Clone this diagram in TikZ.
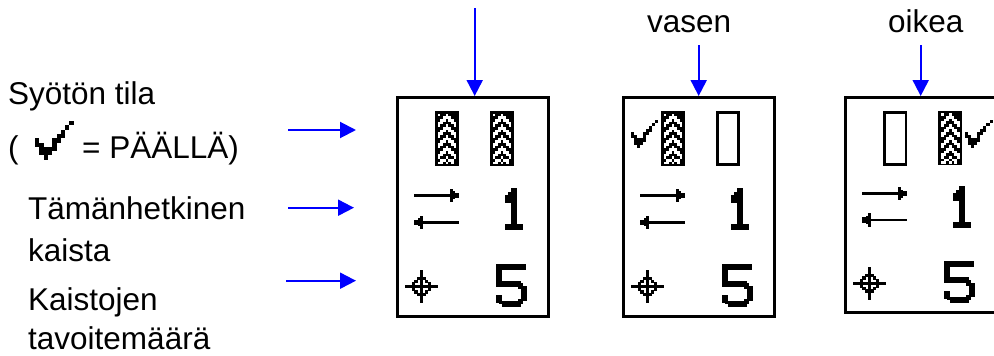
\documentclass[tikz,border=0pt]{standalone}
\usepackage{fontspec}
\setmainfont{Liberation Sans}
\usetikzlibrary{arrows.meta}
\definecolor{arrowblue}{RGB}{0,0,255}
\tikzset{
  label text/.style={anchor=base west,inner sep=0pt,text depth=0pt,font=\fontsize{31.5}{36}\selectfont,text=black},
  pointer/.style={draw=arrowblue,line width=2pt,-{Triangle[length=16pt,width=16pt,fill=arrowblue]}},
  panel/.style={draw=black,line width=2.7pt,rectangle,inner sep=0pt,anchor=north west},
  art/.style={x=2.667pt,y=-2.667pt},
}
\newcommand\pixrow[2]{\foreach \c in {#2}{\fill[white] (\c,#1) rectangle +(1.02,1.02);}}
\newcommand\treadicon[2]{%
  \begin{scope}[shift={(#1,#2)},art]
    \fill[black] (0,0) rectangle (9,20.6);
    \pixrow{1}{1,4}
    \pixrow{2}{3,4,5}
    \pixrow{3}{2,3,5,6}
    \pixrow{4}{1,2,6,7}
    \pixrow{5}{1,4,7}
    \pixrow{6}{3,4,5}
    \pixrow{7}{2,3,5,6}
    \pixrow{8}{1,2,6,7}
    \pixrow{9}{1,4,7}
    \pixrow{10}{3,4,5}
    \pixrow{11}{2,3,5,6}
    \pixrow{12}{1,2,6,7}
    \pixrow{13}{1,4,7}
    \pixrow{14}{3,4,5}
    \pixrow{15}{2,3,5,6}
    \pixrow{16}{1,2,6,7}
    \pixrow{17}{1,4,7}
    \pixrow{18}{2,3,5,6}
    \pixrow{19}{1,2,4,6}
  \end{scope}}
\newcommand\hollowicon[2]{%
  \draw[black,line width=2.667pt] (#1+1.33,#2+1.33) rectangle (#1+22.67,#2+53.67);}
% tick drawn from square cells: #1,#2 = top-left, #3 = cell size
\newcommand\tickicon[3]{%
  \begin{scope}[shift={(#1,#2)},x=#3pt,y=-#3pt]
    \foreach \cx/\cy/\cw in {8/0/1,7/1/1,6/2/1,5/3/2,0/4/1,4/4/2,0/5/2,4/5/1,1/6/4,1/7/3,2/8/1}{
      \fill[black] (\cx,\cy) rectangle +(\cw,1.02);
    }
  \end{scope}}
\newcommand\statusicons{%
  % direction arrows
  \fill[black] (414,194) rectangle (453,196.7);
  \fill[black] (450,188.6) rectangle (452.7,202.1);
  \fill[black] (452.7,191.3) rectangle (455.4,199.4);
  \fill[black] (455.4,192.6) rectangle (459,198);
  \fill[black] (420,221) rectangle (459,223.7);
  \fill[black] (420.3,215.6) rectangle (423,229.1);
  \fill[black] (417.6,218.3) rectangle (420.3,226.4);
  \fill[black] (414,219.6) rectangle (417.6,225);
  % numeral 1
  \fill[black] (510.7,188) rectangle (516.7,230);
  \fill[black] (505,224) rectangle (522.7,230);
  \fill[black] (505,195) rectangle (510.7,202.7);
  \fill[black] (508,192) rectangle (510.7,195);
  % numeral 5
  \fill[black] (496,264) rectangle (526,270);
  \fill[black] (496,264) rectangle (502,286.7);
  \fill[black] (496,280.7) rectangle (520.7,286.7);
  \fill[black] (518,283.4) rectangle (523.4,289);
  \fill[black] (520.7,286) rectangle (526.7,301);
  \fill[black] (518,298.5) rectangle (523.4,304);
  \fill[black] (502,300.7) rectangle (520.7,306.7);
  \fill[black] (496,295) rectangle (502,303);
  \fill[black] (499,300.7) rectangle (503,304);
  % target cross
  \begin{scope}[shift={(421.3,286.7)},art]
    \fill[black] (-6.15,-.6) rectangle (6.15,.6);
    \fill[black] (-.6,-6.25) rectangle (.6,6.25);
    \foreach \a/\b in {4/0,3/1,2/2,1/3,0/4}{
      \foreach \s in {1,-1}{\foreach \t in {1,-1}{
        \fill[black] ({\s*\a-.65},{\t*\b-.65}) rectangle +(1.3,1.3);
      }}}
  \end{scope}}
\begin{document}
\begin{tikzpicture}[x=1pt,y=-1pt]
  \useasboundingbox (0,0) rectangle (994,356);
  \clip (0,0) rectangle (994,356);
  \fill[white] (0,0) rectangle (994,356);
  % panels
  \node[panel,minimum width=151.3pt,minimum height=219.3pt] (p1) at (396,96) {};
  \node[panel,minimum width=151.3pt,minimum height=219.3pt] (p2) at (622,96) {};
  \node[panel,minimum width=151.3pt,minimum height=215.3pt] (p3) at (844,96) {};
  % panel contents
  \treadicon{435}{111}
  \treadicon{490}{111}
  \statusicons
  \tickicon{630.7}{120}{3.07}
  \treadicon{661}{111}
  \hollowicon{716}{111}
  \begin{scope}[shift={(226,0)}]\statusicons\end{scope}
  \hollowicon{883.3}{111}
  \treadicon{938.3}{110.5}
  \tickicon{965}{120}{3.07}
  \begin{scope}[shift={(448,1.73)},yscale=.982]\statusicons\end{scope}
  % top labels
  \node[label text] (vasen) at (647,32) {vasen};
  \node[label text] (oikea) at (888,32) {oikea};
  % left labels
  \node[label text] (syoton) at (8,104) {Syötön tila};
  \node[label text] (paren) at (8,158) {(};
  \node[label text] (paalla) at (82,158) {= PÄÄLLÄ)};
  \node[label text] (nyky) at (28,219) {Tämänhetkinen};
  \node[label text] (kaista) at (28,261.7) {kaista};
  \node[label text] (kaistojen) at (28,310.7) {Kaistojen};
  \node[label text] (tavoite) at (28,349.3) {tavoitemäärä};
  % legend tick
  \tickicon{35}{121}{4.3}
  % connector ends
  \coordinate (a1s) at (474.7,8);     \coordinate (a1e) at (474.7,96);
  \coordinate (a2s) at (698.7,45);    \coordinate (a2e) at (698.7,96);
  \coordinate (a3s) at (920.7,45);    \coordinate (a3e) at (920.7,96);
  \coordinate (l1s) at (288,130);     \coordinate (l1e) at (356,130);
  \coordinate (l2s) at (288,207.7);   \coordinate (l2e) at (354,207.7);
  \coordinate (l3s) at (286,280.7);   \coordinate (l3e) at (356,280.7);
  \draw[pointer] (a1s) -- (a1e);
  \draw[pointer] (a2s) -- (a2e);
  \draw[pointer] (a3s) -- (a3e);
  \draw[pointer] (l1s) -- (l1e);
  \draw[pointer] (l2s) -- (l2e);
  \draw[pointer] (l3s) -- (l3e);
\end{tikzpicture}
\end{document}
